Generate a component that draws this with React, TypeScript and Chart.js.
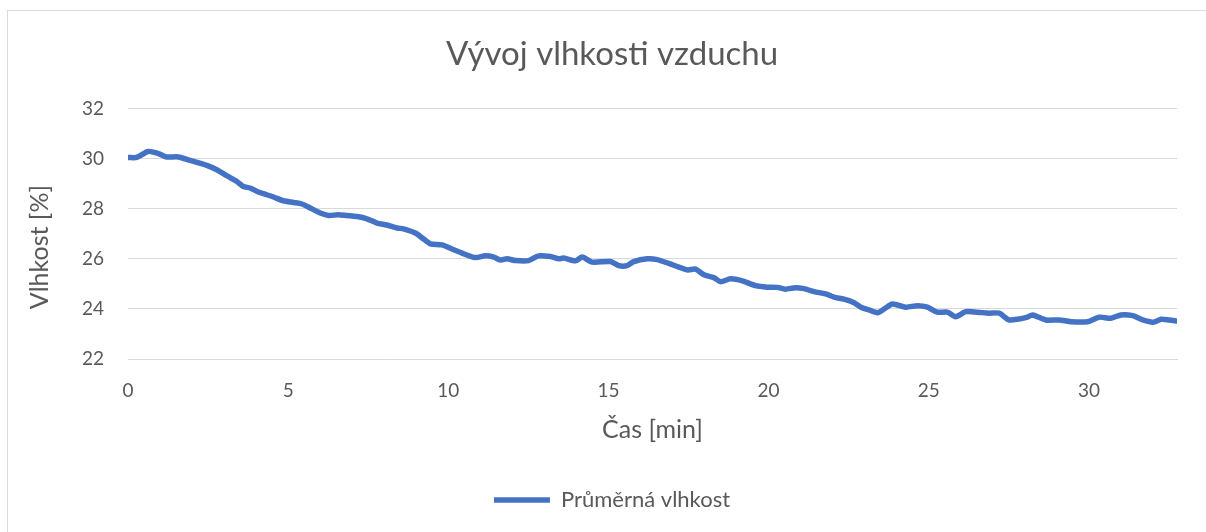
import React, { useEffect, useRef } from "react";
import { Chart, registerables } from "chart.js";

Chart.register(...registerables);

const timeMin: number[] = [
  0, 0.27, 0.63, 0.95, 1.2, 1.57, 1.94, 2.46, 2.77, 3.08, 3.4, 3.6, 3.81, 4.07, 4.33, 4.54, 4.85,
  5.17, 5.43, 5.69, 6.0, 6.26, 6.57, 6.83, 7.15, 7.46, 7.77, 8.08, 8.4, 8.6, 8.97, 9.23, 9.44, 9.8,
  10.1, 10.43, 10.84, 11.16, 11.42, 11.63, 11.83, 12.1, 12.51, 12.82, 13.19, 13.45, 13.6, 13.97,
  14.18, 14.49, 15.06, 15.32, 15.58, 15.79, 16.21, 16.52, 16.88, 17.46, 17.72, 17.98, 18.29, 18.5,
  18.81, 19.18, 19.59, 19.96, 20.27, 20.53, 20.84, 21.1, 21.42, 21.78, 22.04, 22.35, 22.67, 22.88,
  23.13, 23.4, 23.6, 23.87, 24.28, 24.65, 24.96, 25.27, 25.58, 25.84, 26.16, 26.52, 26.88, 27.2,
  27.51, 27.82, 28.08, 28.24, 28.66, 29.07, 29.44, 29.96, 30.32, 30.69, 31.0, 31.37, 31.68, 32.0,
  32.26, 32.51, 32.75,
];

const humidity: number[] = [
  30.05, 30.05, 30.29, 30.2, 30.07, 30.07, 29.93, 29.73, 29.56, 29.32, 29.09, 28.89, 28.83, 28.67,
  28.56, 28.47, 28.32, 28.25, 28.19, 28.03, 27.83, 27.73, 27.76, 27.73, 27.69, 27.6, 27.43, 27.35,
  27.23, 27.2, 27.03, 26.79, 26.6, 26.56, 26.4, 26.23, 26.05, 26.12, 26.07, 25.95, 26.0, 25.93,
  25.93, 26.12, 26.09, 26.0, 26.03, 25.92, 26.07, 25.87, 25.89, 25.73, 25.73, 25.89, 26.0, 25.97,
  25.82, 25.56, 25.59, 25.36, 25.25, 25.09, 25.2, 25.12, 24.93, 24.87, 24.86, 24.79, 24.85, 24.81,
  24.69, 24.6, 24.47, 24.39, 24.25, 24.07, 23.96, 23.85, 23.99, 24.2, 24.07, 24.13, 24.07, 23.87,
  23.87, 23.69, 23.89, 23.87, 23.83, 23.83, 23.56, 23.6, 23.67, 23.76, 23.56, 23.56, 23.49, 23.49,
  23.67, 23.63, 23.76, 23.73, 23.56, 23.47, 23.59, 23.56, 23.52,
];

const chartTitle = "Vývoj vlhkosti vzduchu";
const seriesName = "Průměrná vlhkost";
const xTitle = "Čas [min]";
const yTitle = "Vlhkost [%]";
const yMin = 22;
const yMax = 32;
const yStep = 2;
const xStep = 5;

const FONT = "Lato, 'Open Sans', sans-serif";
const TEXT = "#595959";
const GRID = "#d9d9d9";
const LINE = "#4472C4";

const yTitlePlugin = {
  id: "yTitleDraw",
  afterDraw(chart: any) {
    const ctx = chart.ctx;
    ctx.save();
    ctx.translate(40, 247);
    ctx.rotate(-Math.PI / 2);
    ctx.fillStyle = TEXT;
    ctx.font = `25px ${FONT}`;
    ctx.textAlign = "center";
    ctx.textBaseline = "middle";
    ctx.fillText(yTitle, 0, 0);
    ctx.restore();
  },
};

export default function App() {
  const ref = useRef<HTMLCanvasElement | null>(null);

  useEffect(() => {
    document.body.style.margin = "0";
    const canvas = ref.current;
    if (!canvas) return;
    const points = timeMin.map((t, i) => ({ x: t, y: humidity[i] }));
    const chart = new Chart(canvas, {
      type: "line",
      data: {
        datasets: [
          {
            label: seriesName,
            data: points,
            borderColor: LINE,
            backgroundColor: LINE,
            borderWidth: 5.5,
            borderCapStyle: "round",
            borderJoinStyle: "round",
            pointRadius: 0,
            tension: 0.25,
            fill: false,
            yAxisID: "y",
          },
        ],
      },
      plugins: [yTitlePlugin],
      options: {
        animation: false,
        responsive: false,
        maintainAspectRatio: false,
        devicePixelRatio: 1,
        layout: { padding: { left: 0, right: 0, top: 0, bottom: 11 } },
        plugins: {
          title: {
            display: true,
            text: chartTitle,
            color: TEXT,
            font: { family: FONT, size: 33, weight: "normal" },
            padding: { top: 35, bottom: 34 },
          },
          legend: {
            display: true,
            position: "bottom",
            labels: {
              color: TEXT,
              font: { family: FONT, size: 22 },
              usePointStyle: true,
              pointStyle: "line",
              pointStyleWidth: 56,
              padding: 10,
            },
          },
          tooltip: { enabled: false },
        },
        scales: {
          x: {
            type: "linear",
            min: 0,
            max: timeMin[timeMin.length - 1],
            afterFit: (s: any) => {
              s.height = 120;
            },
            ticks: {
              stepSize: xStep,
              includeBounds: false,
              color: TEXT,
              font: { family: FONT, size: 19 },
              padding: 20,
              maxRotation: 0,
            },
            grid: { display: false, drawTicks: false },
            border: { display: true, color: GRID, width: 1 },
            title: {
              display: true,
              text: xTitle,
              color: TEXT,
              font: { family: FONT, size: 25 },
              padding: { top: 0, bottom: 34 },
            },
          },
          y: {
            type: "linear",
            position: "left",
            min: yMin,
            max: yMax,
            afterFit: (s: any) => {
              s.width = 128;
            },
            ticks: {
              stepSize: yStep,
              color: TEXT,
              font: { family: FONT, size: 19 },
              padding: 24,
            },
            grid: { color: GRID, lineWidth: 1, drawTicks: false },
            border: { display: false },
          },
          yRight: {
            type: "linear",
            position: "right",
            min: yMin,
            max: yMax,
            afterFit: (s: any) => {
              s.width = 1224 - 1177;
            },
            ticks: { display: false },
            grid: { display: false, drawTicks: false },
            border: { display: false },
          },
        },
      },
    });
    return () => chart.destroy();
  }, []);

  return (
    <div style={{ position: "relative", width: 1206, height: 532, overflow: "hidden", background: "#fff" }}>
      <div
        style={{
          position: "absolute",
          left: 7,
          top: 10,
          width: 1300,
          height: 600,
          border: `1px solid ${GRID}`,
          boxSizing: "border-box",
        }}
      />
      <canvas
        ref={ref}
        width={1224}
        height={532}
        style={{ position: "absolute", left: 0, top: 0, width: 1224, height: 532 }}
      />
    </div>
  );
}
